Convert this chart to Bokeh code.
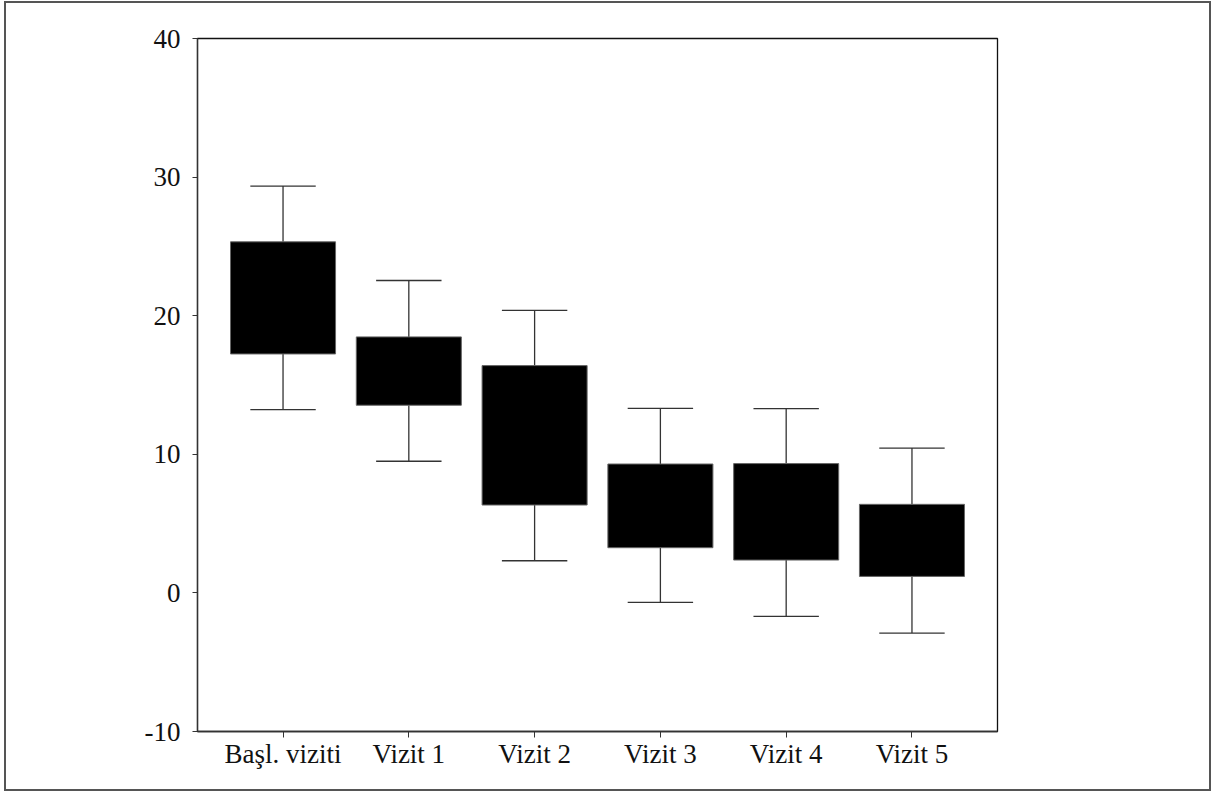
from bokeh.plotting import figure
from bokeh.models import FactorRange, Range1d, FixedTicker, ColumnDataSource
from bokeh.transform import dodge
from bokeh.embed import file_html
from bokeh.resources import INLINE

categories = ["Başl. viziti", "Vizit 1", "Vizit 2", "Vizit 3", "Vizit 4", "Vizit 5"]
whisker_low = [13.23, 9.50, 2.32, -0.69, -1.70, -2.90]
q1 = [17.24, 13.54, 6.34, 3.26, 2.37, 1.19]
q3 = [25.33, 18.47, 16.40, 9.30, 9.33, 6.39]
whisker_high = [29.35, 22.54, 20.38, 13.32, 13.30, 10.45]
y_ticks = [-10, 0, 10, 20, 30, 40]
y_tick_labels = ["-10", "0", "10", "20", "30", "40"]

src = ColumnDataSource(dict(cat=categories, lo=whisker_low, q1=q1, q3=q3, hi=whisker_high))

FONT = "Liberation Serif"

p = figure(
    x_range=FactorRange(factors=categories, range_padding=0.18, range_padding_units="absolute"),
    y_range=Range1d(-10, 40),
    width=1207, height=790,
    min_border_left=191, min_border_right=216, min_border_top=35, min_border_bottom=62,
    output_backend="svg", toolbar_location=None,
)
p.styles = {"border": "2px solid #555555", "margin-left": "4px", "margin-top": "1px"}
p.background_fill_color = "white"
p.border_fill_color = "white"
p.outline_line_color = "#111111"
p.outline_line_width = 1.3
p.xgrid.visible = False
p.ygrid.visible = False

# whiskers
p.segment(x0="cat", y0="q3", x1="cat", y1="hi", source=src, line_color="#333333", line_width=1.3)
p.segment(x0="cat", y0="lo", x1="cat", y1="q1", source=src, line_color="#333333", line_width=1.3)
p.segment(x0=dodge("cat", -0.26, range=p.x_range), y0="hi",
          x1=dodge("cat", 0.26, range=p.x_range), y1="hi",
          source=src, line_color="#333333", line_width=1.3)
p.segment(x0=dodge("cat", -0.26, range=p.x_range), y0="lo",
          x1=dodge("cat", 0.26, range=p.x_range), y1="lo",
          source=src, line_color="#333333", line_width=1.3)
# boxes
p.vbar(x="cat", top="q3", bottom="q1", width=0.835, source=src,
       fill_color="black", line_color="#666666", line_width=1)

# y axis
p.yaxis.ticker = FixedTicker(ticks=y_ticks, minor_ticks=[])
p.yaxis.major_label_overrides = dict(zip(y_ticks, y_tick_labels))
p.yaxis.axis_line_color = "#333333"
p.yaxis.axis_line_width = 1.3
p.yaxis.major_tick_in = 0
p.yaxis.major_tick_out = 5
p.yaxis.major_tick_line_color = "#333333"
p.yaxis.minor_tick_line_color = None
p.yaxis.major_label_standoff = 12
p.yaxis.major_label_text_font = FONT
p.yaxis.major_label_text_font_size = "27px"
p.yaxis.major_label_text_color = "#111111"

# x axis
p.xaxis.axis_line_color = "#333333"
p.xaxis.axis_line_width = 1.3
p.xaxis.major_tick_in = 0
p.xaxis.major_tick_out = 6
p.xaxis.major_tick_line_color = "#333333"
p.xaxis.major_label_standoff = 1
p.xaxis.major_label_text_font = FONT
p.xaxis.major_label_text_font_size = "27px"
p.xaxis.major_label_text_color = "#111111"

open("out.html", "w").write(file_html(p, INLINE))
